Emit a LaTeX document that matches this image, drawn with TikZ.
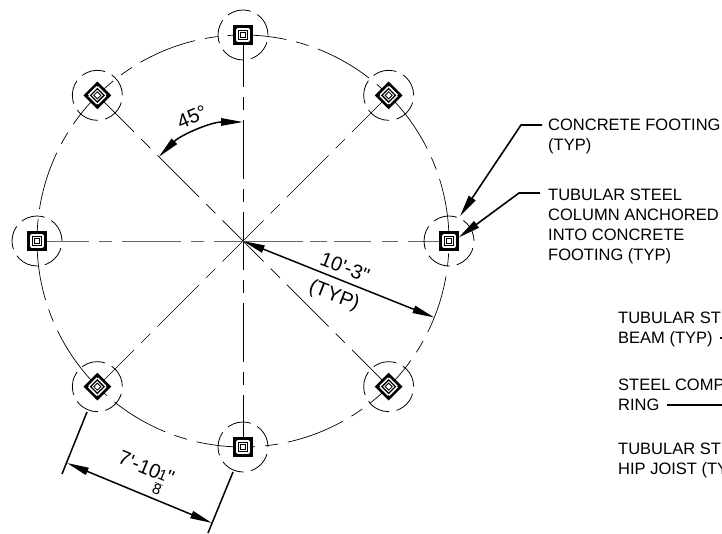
\documentclass[tikz,border=0pt]{standalone}
\usepackage{fontspec}
\setmainfont[Ligatures=TeXOff]{Liberation Sans}
\usetikzlibrary{arrows.meta}
\usetikzlibrary{calc}
\tikzset{
  pad/.style={draw=black, line width=2.6pt, minimum size=17pt, inner sep=0pt},
  post/.style={draw=black, line width=1.3pt, minimum size=9.5pt, inner sep=0pt},
  postcore/.style={draw=black, line width=0.8pt, minimum size=5pt, inner sep=0pt},
  halo/.style={circle, draw=black, line width=0.8pt, minimum size=50pt, inner sep=0pt,
    dash pattern=on 24pt off 7.4pt},
  axisline/.style={draw=black, line width=0.7pt, dash pattern=on 59pt off 10pt on 13pt off 10pt, dash phase=30pt},
  flatline/.style={draw=black!60, line width=0.9pt, dash pattern=on 59pt off 10pt on 13pt off 10pt, dash phase=30pt},
  eastline/.style={draw=black!60, line width=0.9pt, dash pattern=on 60pt off 7pt on 17pt off 7pt on 37pt off 11pt on 16pt off 10pt on 60pt},
  rim/.style={draw=black, line width=0.7pt, dash pattern=on 59pt off 10pt on 13pt off 10pt, dash phase=88pt},
  dimline/.style={draw=black, line width=1.5pt, {Triangle[length=22pt,width=7.5pt]}-{Triangle[length=22pt,width=7.5pt]}},
  witness/.style={draw=black, line width=1.5pt},
  leader/.style={draw=black, line width=1.5pt},
  callout/.style={draw=black, line width=1.6pt, -{Triangle[length=22pt,width=8pt]}},
  note/.style={align=left, anchor=north west, inner sep=0pt, font=\fontsize{16.5}{20}\selectfont},
  dimtext/.style={inner sep=0pt, font=\fontsize{20}{22}\selectfont}
}
\newcommand{\stackeighth}{\hspace{-1pt}\raisebox{-7pt}{\fontsize{15}{15}\selectfont\setlength{\tabcolsep}{0pt}\renewcommand{\arraystretch}{0.95}\begin{tabular}{c}1\\\hline 8\end{tabular}}}
\begin{document}
\begin{tikzpicture}[x=1pt, y=1pt]
    \useasboundingbox (0,0) rectangle (722,534);
    \coordinate (cen) at (243,293);
    % ring and center lines
    \draw[rim] (cen) circle (206);
    \foreach \ang in {45,90,135,225,270,315} {
      \coordinate (axis\ang) at ($(cen)+(\ang:206)$);
      \draw[axisline] (cen) -- (axis\ang);
    }
    \coordinate (axis180) at ($(cen)+(180:206)$);
    \coordinate (axis0) at ($(cen)+(0:206)$);
    \draw[flatline] (cen) -- (axis180);
    \draw[eastline] (cen) -- (axis0);
    % footings
    \foreach \ang in {0,45,...,315} {
      \pgfmathsetmacro{\tilt}{mod(\ang,90)}
      \node[halo] (halo\ang) at ($(cen)+(\ang:206)$) {};
      \node[pad, fill=white, rotate=\tilt] (pad\ang) at ($(cen)+(\ang:206)$) {};
      \node[post, rotate=\tilt] (post\ang) at (pad\ang) {};
      \node[postcore, rotate=\tilt] (core\ang) at (pad\ang) {};
      \foreach \cor in {north east,north west,south east,south west}
        \fill ($(pad\ang.center)!0.72!(pad\ang.\cor)$) circle (1.4);
    }
    % callouts
    \coordinate (kneeA) at (521,409);
    \coordinate (tailA) at (542,409);
    \coordinate (kneeB) at (519,341);
    \coordinate (tailB) at (540,341);
    \coordinate (footA) at ($(cen)+(206,0)+(66:27)$);
    \draw[callout] (tailA) -- (kneeA) -- (footA);
    \draw[callout] (tailB) -- (kneeB) -- (pad0.20);
    \node[note] (noteA) at (548,415) {CONCRETE FOOTING\\(TYP)};
    \node[note] (noteB) at (548,345) {TUBULAR STEEL\\COLUMN ANCHORED\\INTO CONCRETE\\FOOTING (TYP)};
    \node[note] (noteC) at (618,222) {TUBULAR ST\\BEAM (TYP)};
    \node[note] (noteD) at (618,155) {STEEL COMP\\RING};
    \node[note] (noteE) at (618,91) {TUBULAR ST\\HIP JOIST (TY};
    \coordinate (beamA) at (720,196);
    \coordinate (beamB) at (722,196);
    \draw[leader] (beamA) -- (beamB);
    \coordinate (ringA) at (667,129);
    \coordinate (ringB) at (722,129);
    \draw[leader] (ringA) -- (ringB);
    % dimensions
    \coordinate (rimdim) at ($(cen)+(-21.8:206)$);
    \draw[dimline] (cen) -- (rimdim);
    \node[dimtext, rotate=-21] (radA) at (345,267) {10'-3"};
    \node[dimtext, rotate=-21] (radB) at (334,238) {(TYP)};
    \coordinate (angA) at ($(cen)+(90:119)$);
    \coordinate (angB) at ($(cen)+(135:119)$);
    \draw[dimline] (angA) arc (90:135:119);
    \node[dimtext, rotate=22] (angT) at (192,417) {45°};
    \coordinate (witA) at (87,122);
    \coordinate (witB) at (62,60);
    \coordinate (witC) at (233,62);
    \coordinate (witD) at (208,1);
    \coordinate (spanA) at (67,71);
    \coordinate (spanB) at (212,11);
    \draw[witness] (witA) -- (witB);
    \draw[witness] (witC) -- (witD);
    \draw[dimline] (spanA) -- (spanB);
    \node[dimtext, rotate=-22.5] (spanT) at (143,58) {7'-10\stackeighth"};
\end{tikzpicture}
\end{document}
